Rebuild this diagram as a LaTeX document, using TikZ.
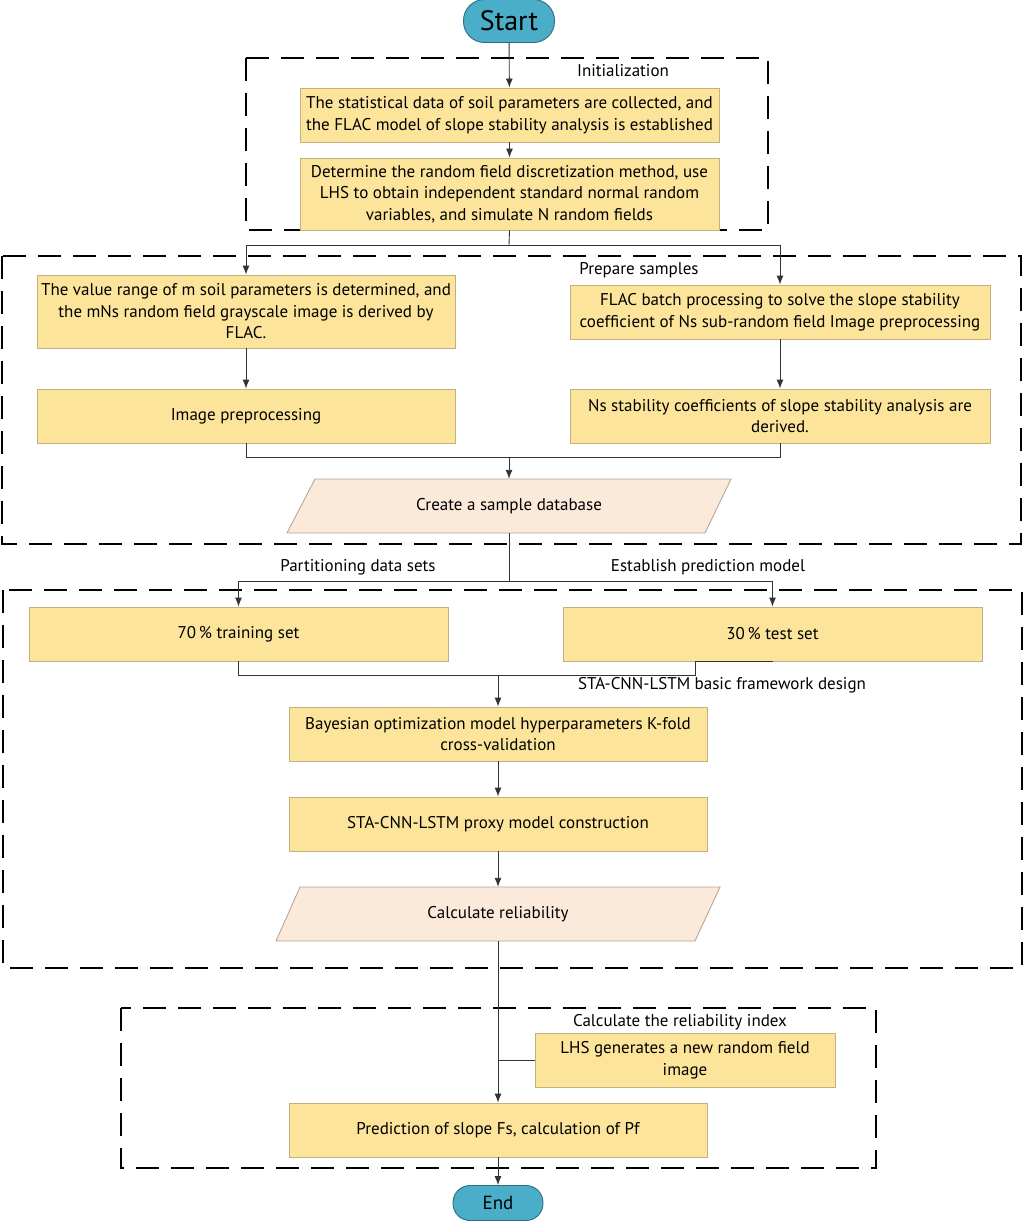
\documentclass[tikz,border=0pt]{standalone}
\usepackage{fontspec}
\setmainfont{PT Sans}
\usetikzlibrary{arrows.meta,positioning}
\definecolor{boxfill}{HTML}{FCE59B}
\definecolor{boxline}{HTML}{C2B07F}
\definecolor{parafill}{HTML}{FBE9DA}
\definecolor{paraline}{HTML}{B5A79B}
\definecolor{termfill}{HTML}{4AAEC8}
\definecolor{termline}{HTML}{2D6E80}
\definecolor{conn}{HTML}{333333}
\tikzset{
  stepbox/.style={draw=boxline, fill=boxfill, line width=0.9pt, minimum width=419pt,
    minimum height=54pt, inner sep=0pt, align=center, font=\fontsize{17}{21.5}\selectfont},
  term/.style={draw=termline, fill=termfill, line width=0.9pt, rounded corners=17pt, inner sep=0pt, align=center},
  paratext/.style={inner sep=0pt, minimum height=54pt, font=\fontsize{17}{21}\selectfont},
  para/.style={draw=paraline, fill=parafill, line width=0.9pt},
  group/.style={draw=black, line width=1.7pt, dash pattern=on 23pt off 12pt},
  lbl/.style={inner sep=0pt, font=\fontsize{17}{20}\selectfont},
  arr/.style={draw=conn, line width=0.9pt, -{Latex[length=9pt,width=7pt]}},
  ln/.style={draw=conn, line width=0.9pt},
}
\begin{document}
\begin{tikzpicture}[x=1pt,y=-1pt]
\useasboundingbox (0,0) rectangle (1024,1221);
% dashed groups
\draw[group] (246,58) rectangle (768,230);
\draw[group] (2,256) rectangle (1021,544);
\draw[group] (3,590) rectangle (1022,968);
\draw[group] (121,1008) rectangle (876,1168);
% group labels
\node[lbl] (l1) at (623,71) {Initialization};
\node[lbl] (l2) at (639,270) {Prepare samples};
\node[lbl] (l3) at (358,567) {Partitioning data sets};
\node[lbl] (l4) at (708,567) {Establish prediction model};
\node[lbl] (l5) at (722,685) {STA-CNN-LSTM basic framework design};
\node[lbl] (l6) at (680,1022) {Calculate the reliability index};
% terminals
\node[term, minimum width=91pt, minimum height=43pt, rounded corners=21pt, font=\fontsize{28}{30}\selectfont] (start) at (509,21) {Start};
\node[term, minimum width=90pt, minimum height=35pt, font=\fontsize{19}{21}\selectfont] (end) at (498,1203) {End};
% boxes
\node[stepbox] (A) at (509.5,115) {The statistical data of soil parameters are collected, and\\the FLAC model of slope stability analysis is established};
\node[stepbox, minimum height=72pt] (B) at (509.5,194) {Determine the random field discretization method, use\\LHS to obtain independent standard normal random\\variables, and simulate N random fields};
\node[stepbox, minimum width=418pt, minimum height=73pt] (C) at (246,311.5) {The value range of m soil parameters is determined, and\\the mNs random field grayscale image is derived by\\FLAC.};
\node[stepbox, minimum width=420pt] (D) at (780,312) {FLAC batch processing to solve the slope stability\\coefficient of Ns sub-random field Image preprocessing};
\node[stepbox, minimum width=418pt] (E) at (246,416) {Image preprocessing};
\node[stepbox, minimum width=420pt] (F) at (780,416) {Ns stability coefficients of slope stability analysis are\\derived.};
% parallelogram G
\path[para] (315,479) -- (731,479) -- (705,533) -- (287,533) -- cycle;
\node[paratext, minimum width=390pt] (G) at (509,506) {Create a sample database};
\node[stepbox] (H) at (238.5,634) {70\,\% training set};
\node[stepbox] (I) at (772.5,634) {30\,\% test set};
\node[stepbox, minimum width=418pt] (J) at (498,734) {Bayesian optimization model hyperparameters K-fold\\cross-validation};
\node[stepbox, minimum width=418pt] (K) at (498,824) {STA-CNN-LSTM proxy model construction};
% parallelogram L
\path[para] (300,887) -- (720,887) -- (695,941) -- (276,941) -- cycle;
\node[paratext, minimum width=390pt] (L) at (498,914) {Calculate reliability};
\node[stepbox, minimum width=300pt] (M) at (685,1060) {LHS generates a new random field\\image};
\node[stepbox, minimum width=418pt] (N) at (498,1130) {Prediction of slope Fs, calculation of Pf};
% connectors
\draw[arr] (start) -- (A);
\draw[arr] (A) -- (B);
\coordinate (s1) at (509,245);
\draw[ln] (B.south) -- (s1);
\draw[arr] (s1) -| (C.north);
\draw[arr] (s1) -| (D.north);
\draw[arr] (C) -- (E);
\draw[arr] (D) -- (F);
\coordinate (s2) at (509,457);
\draw[ln] (E.south) |- (s2);
\draw[ln] (F.south) |- (s2);
\draw[arr] (s2) -- (G.north);
\coordinate (s3) at (509,581);
\draw[ln] (G.south) -- (s3);
\draw[arr] (s3) -| (H.north);
\draw[arr] (s3) -| (I.north);
\coordinate (s4) at (498,675);
\coordinate (s5) at (695,675);
\draw[ln] (H.south) |- (s4);
\draw[ln] (I.south) -| (s5) -- (s4);
\draw[arr] (s4) -- (J.north);
\draw[arr] (J) -- (K);
\draw[arr] (K) -- (L.north);
\draw[arr] (L.south) -- (N.north);
\coordinate (s6) at (498,1060);
\draw[ln] (M.west) -- (s6);
\draw[arr] (N) -- (end);
\end{tikzpicture}
\end{document}
